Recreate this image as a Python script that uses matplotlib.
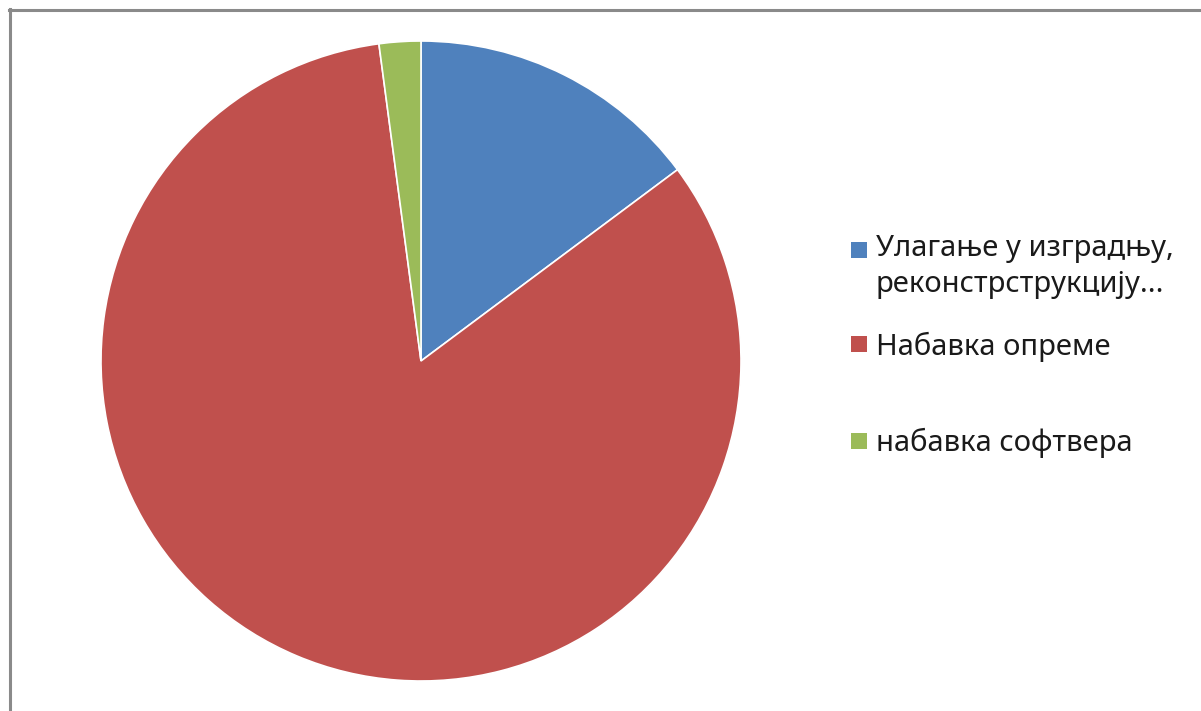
import matplotlib.pyplot as plt
from matplotlib.lines import Line2D
from matplotlib.patches import Rectangle

labels = ["Улагање у изградњу,\nреконстрструкцију...", "Набавка опреме", "набавка софтвера"]
values = [14.8, 83.1, 2.1]
colors = ["#4F81BD", "#C0504D", "#9BBB59"]

plt.rcParams['font.family'] = ['Noto Sans', 'DejaVu Sans']

fig = plt.figure(figsize=(12.01, 7.11), dpi=100)

# pie centre at (421, 361) px, radius ~320 px
W, H = 1201, 711
half = 330
ax = fig.add_axes([(421 - half) / W, (H - 361 - half) / H, 2 * half / W, 2 * half / H])
ax.pie(values, colors=colors, startangle=90, counterclock=False,
       wedgeprops=dict(edgecolor="white", linewidth=1.2))
lim = half / 320
ax.set_xlim(-lim, lim)
ax.set_ylim(-lim, lim)
ax.set_aspect("equal")
ax.axis("off")

# frame of the embedded chart
fig.add_artist(Line2D([9 / W, 1], [1 - 9.5 / H, 1 - 9.5 / H], color="#8a8a8a", lw=2.2,
                      transform=fig.transFigure))
fig.add_artist(Line2D([9.5 / W, 9.5 / W], [0, 1 - 8.5 / H], color="#8a8a8a", lw=2.2,
                      transform=fig.transFigure))

# legend, drawn by hand to keep Excel's uneven spacing
box_top = [242, 336, 433]
baseline = [292, 355, 451]  # baseline of the last line of each label
for lab, col, bt, bl in zip(labels, colors, box_top, baseline):
    fig.add_artist(Rectangle((851 / W, 1 - (bt + 16) / H), 16 / W, 16 / H,
                             facecolor=col, edgecolor="none", transform=fig.transFigure))
    fig.text(876 / W, 1 - bl / H, lab, fontsize=21, va="baseline", ha="left",
             color="#1a1a1a", linespacing=1.3)

fig.savefig("out.png", dpi=100)
